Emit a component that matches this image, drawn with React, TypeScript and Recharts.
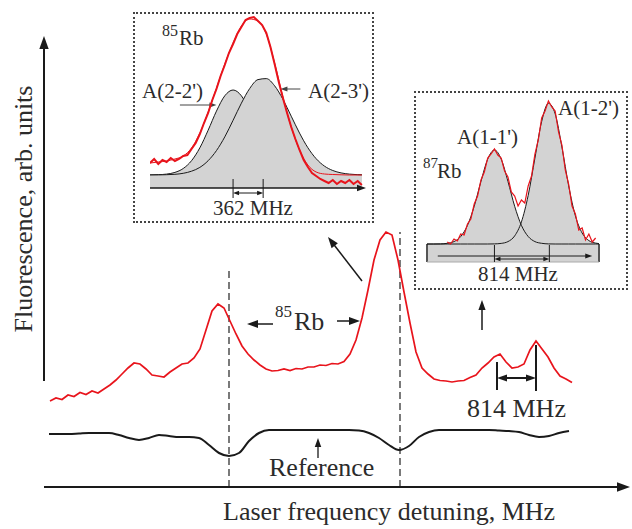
import { Area, ComposedChart, Line, LineChart, ReferenceLine, XAxis, YAxis } from 'recharts'

const INK = '#1a1a1a'
const RED = '#e8141c'
const GRAY = '#d3d3d3'
const TEXT = '#2b2b2b'
const FONT = '"Liberation Serif", "Times New Roman", Times, serif'

// main trace: fluorescence sampled every 120 MHz starting at 120 MHz
const FLUO_STEP = 120
const fluorescence = [
  17.2, 17.8, 17.5, 18.4, 18.1, 18.9, 18.5, 19.2, 18.8, 19.6,
  20.4, 21.4, 22.6, 23.8, 24.8, 24.6, 23.6, 22.4, 22.2, 22.0,
  23.0, 23.8, 24.6, 24.8, 25.8, 27.6, 31.4, 35.2, 36.6, 35.8,
  33.2, 30.6, 28.2, 26.6, 25.4, 24.4, 23.6, 23.2, 23.3, 23.6,
  23.3, 23.7, 23.6, 24.0, 24.0, 24.4, 24.3, 24.7, 24.6, 25.1,
  26.6, 29.4, 33.8, 39.4, 45.4, 49.4, 51.0, 50.4, 45.4, 39.0,
  32.8, 27.0, 23.8, 22.6, 21.6, 21.3, 21.2, 21.0, 21.2, 21.3,
  21.9, 22.4, 23.8, 24.8, 26.0, 26.6, 25.0, 23.8, 24.0, 24.6,
  27.4, 29.2, 27.6, 26.0, 23.8, 22.2, 21.6, 20.9,
]

// reference cell signal, every 200 MHz starting at 100 MHz
const REF_START = 100
const REF_STEP = 200
const referenceSignal = [
  10.6, 10.6, 10.6, 10.7, 10.8, 10.8, 10.8, 10.4, 9.8, 9.4,
  9.8, 10.4, 10.2, 10.0, 10.0, 9.8, 8.4, 6.8, 6.2, 6.8,
  9.2, 10.8, 11.4, 11.4, 11.4, 11.4, 11.4, 11.4, 11.4, 11.4,
  11.4, 11.3, 10.8, 9.8, 8.4, 7.4, 8.2, 10.0, 11.0, 11.4,
  11.4, 11.4, 11.4, 11.4, 11.4, 11.3, 11.2, 11.0, 10.4, 10.0,
  10.2, 10.8, 11.2,
]

// dashed markers at the two 85Rb reference dips (MHz) and their heights
const dipLines = [3700, 7120]
const dipTops = [43.8, 51]

// 85Rb inset
const rb85Detuning = [-1000, -900, -800, -700, -600, -500, -400, -300, -200, -100, 0, 100, 200, 300, 400, 500, 600, 700, 800, 900, 1000, 1100, 1200, 1300, 1400, 1500, 1550]
const rb85A22 = [0.1, 0.3, 0.9, 2.6, 6.5, 14.3, 27.2, 44.8, 63.9, 79.2, 85, 79.2, 63.9, 44.8, 27.2, 14.3, 6.5, 2.6, 0.9, 0.3, 0.1, 0, 0, 0, 0, 0, 0]
const rb85A23 = [0, 0.1, 0.3, 0.7, 1.7, 3.8, 7.6, 14.3, 24.4, 38.1, 54.7, 71.8, 86.5, 95.4, 96.4, 89.2, 75.7, 58.8, 41.9, 27.3, 16.3, 8.9, 4.5, 2.1, 0.9, 0.3, 0.2]
const rb85Fit = [12, 13, 14, 16, 19, 27, 42, 63, 87, 111, 132, 149, 156, 154, 141, 112, 78, 48, 25, 10, 3, 1, 0.5, 0.2, 0, 0, 0]
const RB85_SIG_START = -1000
const RB85_SIG_STEP = 50
const rb85Signal = [
  12, 16, 11, 15, 13, 17, 14, 16, 19, 20,
  26, 32, 41, 52, 62, 75, 86, 99, 110, 122,
  131, 141, 148, 155, 157, 158, 154, 150, 142, 128,
  111, 93, 77, 62, 48, 36, 25, 15, 8, 2,
  -1, -4, -6, -8, -5, -9, -6, -8, -5, -9,
  -6, -10,
]
const RB85_SPLIT = 362

// 87Rb inset
const rb87Detuning = [-1000, -900, -800, -700, -600, -500, -400, -300, -200, -100, 0, 100, 200, 300, 400, 500, 600, 700, 800, 900, 1000, 1100, 1200, 1300, 1400, 1500, 1550]
const rb87A11 = [0, 0, 0.1, 0.7, 2.4, 7.5, 18.6, 37.7, 62.6, 84.9, 94, 84.9, 62.6, 37.7, 18.6, 7.5, 2.4, 0.7, 0.1, 0, 0, 0, 0, 0, 0, 0, 0]
const rb87A12 = [0, 0, 0, 0, 0, 0, 0, 0, 0, 0, 0.1, 0.6, 2.4, 8.1, 22.1, 48.6, 85.9, 122.5, 140.7, 130.2, 97, 58.2, 28.1, 11, 3.4, 0.9, 0.4]
const RB87_SIG_START = -700
const RB87_SIG_STEP = 50
const rb87Signal = [
  2, 0, 5, 3, 10, 9, 20, 25, 40, 48,
  64, 72, 86, 90, 95, 89, 86, 73, 67, 52,
  48, 38, 44, 41, 58, 68, 90, 104, 126, 133,
  143, 137, 133, 112, 99, 74, 60, 38, 30, 14,
  16, 4, 10, 2, 6,
]
const RB87_SPLIT = 814

const fluoRows = fluorescence.map((v, i) => ({ f: FLUO_STEP * (i + 1), v }))
const refRows = referenceSignal.map((v, i) => ({ f: REF_START + REF_STEP * i, v }))
const rb85Rows = rb85Detuning.map((x, i) => ({ x, a22: rb85A22[i], a23: rb85A23[i], fit: rb85Fit[i] }))
const rb85SigRows = rb85Signal.map((v, i) => ({ x: RB85_SIG_START + RB85_SIG_STEP * i, v }))
const rb87Rows = rb87Detuning.map((x, i) => ({ x, a11: rb87A11[i], a12: rb87A12[i] }))
const rb87SigRows = rb87Signal.map((v, i) => ({ x: RB87_SIG_START + RB87_SIG_STEP * i, v }))

// line with a filled arrow head, used as a ReferenceLine shape
const arrow = ({ color = INK, width = 1.5, head = 10, both = false } = {}) => (p: any) => {
  const { x1, y1, x2, y2 } = p
  const a = Math.atan2(y2 - y1, x2 - x1)
  const hw = head * 0.36
  const tri = (x: number, y: number, ang: number) => {
    const bx = x - head * Math.cos(ang)
    const by = y - head * Math.sin(ang)
    return `${x},${y} ${bx + hw * Math.sin(ang)},${by - hw * Math.cos(ang)} ${bx - hw * Math.sin(ang)},${by + hw * Math.cos(ang)}`
  }
  const sx = both ? x1 + head * 0.8 * Math.cos(a) : x1
  const sy = both ? y1 + head * 0.8 * Math.sin(a) : y1
  return (
    <g>
      <line x1={sx} y1={sy} x2={x2 - head * 0.8 * Math.cos(a)} y2={y2 - head * 0.8 * Math.sin(a)} stroke={color} strokeWidth={width} />
      <polygon points={tri(x2, y2, a)} fill={color} />
      {both && <polygon points={tri(x1, y1, a + Math.PI)} fill={color} />}
    </g>
  )
}

const seg = (x1: number, y1: number, x2: number, y2: number) => [{ x: x1, y: y1 }, { x: x2, y: y2 }]

const boxStyle = (left: number, top: number, width: number, height: number): React.CSSProperties => ({
  position: 'absolute', left, top, width, height, boxSizing: 'border-box', border: '2px dotted #444',
})

function Inset85() {
  return (
    <ComposedChart width={241} height={211} data={rb85Rows} margin={{ top: 0, right: 8, bottom: 35, left: 17 }}>
      <XAxis type="number" dataKey="x" domain={[-1000, 1600]} hide allowDataOverflow />
      <YAxis type="number" domain={[-13, 163]} hide allowDataOverflow />
      <Area dataKey="a22" type="monotone" baseValue={-13} fill={GRAY} fillOpacity={1} stroke={INK} strokeWidth={1} isAnimationActive={false} dot={false} activeDot={false} />
      <Area dataKey="a23" type="monotone" baseValue={-13} fill={GRAY} fillOpacity={1} stroke={INK} strokeWidth={1} isAnimationActive={false} dot={false} activeDot={false} />
      <ReferenceLine segment={seg(-1000, -13, 1600, -13)} ifOverflow="visible" shape={arrow({ width: 1.3, head: 9 })} />
      <ReferenceLine segment={seg(0, -4, 0, -23)} ifOverflow="visible" stroke={INK} strokeWidth={1} />
      <ReferenceLine segment={seg(RB85_SPLIT, -4, RB85_SPLIT, -23)} ifOverflow="visible" stroke={INK} strokeWidth={1} />
      <ReferenceLine segment={seg(0, -18, RB85_SPLIT, -18)} ifOverflow="visible" shape={arrow({ width: 1, head: 6, both: true })} />
      <ReferenceLine segment={seg(-640, 70, -200, 70)} ifOverflow="visible" shape={arrow({ width: 1, head: 7, color: '#444' })} />
      <ReferenceLine segment={seg(810, 86, 570, 86)} ifOverflow="visible" shape={arrow({ width: 1, head: 7, color: '#444' })} />
      <Line dataKey="fit" type="monotone" stroke={RED} strokeWidth={1} dot={false} activeDot={false} isAnimationActive={false} />
      <Line data={rb85SigRows} dataKey="v" type="linear" stroke={RED} strokeWidth={2} dot={false} activeDot={false} isAnimationActive={false} />
    </ComposedChart>
  )
}

function Inset87() {
  return (
    <ComposedChart width={214} height={199} data={rb87Rows} margin={{ top: 0, right: 29, bottom: 28, left: 13 }}>
      <XAxis type="number" dataKey="x" domain={[-1000, 1550]} hide allowDataOverflow />
      <YAxis type="number" domain={[-18, 153]} hide allowDataOverflow />
      <Area dataKey="a11" type="monotone" baseValue={-18} fill={GRAY} fillOpacity={1} stroke="none" isAnimationActive={false} dot={false} activeDot={false} />
      <Area dataKey="a12" type="monotone" baseValue={-18} fill={GRAY} fillOpacity={1} stroke="none" isAnimationActive={false} dot={false} activeDot={false} />
      <ReferenceLine segment={seg(-1000, -18, -1000, 0)} ifOverflow="visible" stroke="#555" strokeWidth={2} />
      <ReferenceLine segment={seg(1550, -18, 1550, 0)} ifOverflow="visible" stroke="#555" strokeWidth={2} />
      <ReferenceLine segment={seg(-1000, -18, 1550, -18)} ifOverflow="visible" stroke="#aaa" strokeWidth={1} />
      <ReferenceLine segment={seg(-840, -12, 1450, -12)} ifOverflow="visible" shape={arrow({ width: 1, head: 7 })} />
      <ReferenceLine segment={seg(0, -1, 0, -18)} ifOverflow="visible" stroke={INK} strokeWidth={1} />
      <ReferenceLine segment={seg(RB87_SPLIT, -1, RB87_SPLIT, -18)} ifOverflow="visible" stroke={INK} strokeWidth={1} />
      <ReferenceLine segment={seg(0, -15, RB87_SPLIT, -15)} ifOverflow="visible" shape={arrow({ width: 1, head: 6, both: true })} />
      <Line dataKey="a11" type="monotone" stroke={INK} strokeWidth={1} dot={false} activeDot={false} isAnimationActive={false} />
      <Line dataKey="a12" type="monotone" stroke={INK} strokeWidth={1} dot={false} activeDot={false} isAnimationActive={false} />
      <Line data={rb87SigRows} dataKey="v" type="linear" stroke={RED} strokeWidth={1.2} dot={false} activeDot={false} isAnimationActive={false} />
    </ComposedChart>
  )
}

export default function App() {
  return (
    <div style={{ position: 'absolute', left: 0, top: 0, width: 632, height: 529, background: '#fff', fontFamily: FONT }}>
      <div style={{ position: 'absolute', left: 0, top: 0 }}>
        <LineChart width={632} height={529} margin={{ top: 27, right: 0, bottom: 42, left: 44 }}>
          <XAxis type="number" dataKey="f" domain={[0, 11760]} hide allowDataOverflow />
          <YAxis type="number" domain={[0, 92]} hide allowDataOverflow />
          {dipLines.map((x, i) => (
            <ReferenceLine key={x} segment={seg(x, 0, x, dipTops[i])} ifOverflow="visible" stroke="#333" strokeWidth={1.3} strokeDasharray="7 4" />
          ))}
          <ReferenceLine segment={seg(0, 0, 11720, 0)} ifOverflow="visible" shape={arrow({ width: 2, head: 13 })} />
          <ReferenceLine segment={seg(0, 21.2, 0, 90.2)} ifOverflow="visible" shape={arrow({ width: 2, head: 13 })} />
          <ReferenceLine segment={seg(6360, 41.2, 5680, 50)} ifOverflow="visible" shape={arrow({ width: 1.5, head: 11 })} />
          <ReferenceLine segment={seg(8760, 31.4, 8760, 37.4)} ifOverflow="visible" shape={arrow({ width: 1.5, head: 10 })} />
          <ReferenceLine segment={seg(4580, 32.6, 4060, 32.6)} ifOverflow="visible" shape={arrow({ width: 1.5, head: 11 })} />
          <ReferenceLine segment={seg(5860, 33.2, 6320, 33.2)} ifOverflow="visible" shape={arrow({ width: 1.5, head: 11 })} />
          <ReferenceLine segment={seg(5480, 5.8, 5480, 9.8)} ifOverflow="visible" shape={arrow({ width: 1.3, head: 9 })} />
          <ReferenceLine segment={seg(9060, 25, 9060, 19.4)} ifOverflow="visible" stroke={INK} strokeWidth={2} />
          <ReferenceLine segment={seg(9840, 28.4, 9840, 19.2)} ifOverflow="visible" stroke={INK} strokeWidth={2} />
          <ReferenceLine segment={seg(9060, 21.8, 9840, 21.8)} ifOverflow="visible" shape={arrow({ width: 2, head: 10, both: true })} />
          <Line data={refRows} dataKey="v" type="monotone" stroke={INK} strokeWidth={2} dot={false} activeDot={false} isAnimationActive={false} />
          <Line data={fluoRows} dataKey="v" type="linear" stroke={RED} strokeWidth={1.7} dot={false} activeDot={false} isAnimationActive={false} />
        </LineChart>
      </div>

      <div style={{ ...boxStyle(133, 12, 241, 211), background: '#fff' }} />
      <div style={{ position: 'absolute', left: 133, top: 12 }}>
        <Inset85 />
      </div>

      <div style={{ ...boxStyle(414, 91, 214, 199), background: '#fff' }} />
      <div style={{ position: 'absolute', left: 414, top: 91 }}>
        <Inset87 />
      </div>

      <svg width={632} height={529} style={{ position: 'absolute', left: 0, top: 0, pointerEvents: 'none' }} fontFamily={FONT} fill={TEXT}>
        <text transform="translate(32,209) rotate(-90)" textAnchor="middle" fontSize={26}>Fluorescence, arb. units</text>
        <text x={223} y={520} fontSize={26}>Laser frequency detuning, MHz</text>
        <text x={275} y={317} fontSize={17}>85</text>
        <text x={294} y={330} fontSize={26}>Rb</text>
        <text x={467} y={417} fontSize={26}>814 MHz</text>
        <text x={269} y={476} fontSize={26}>Reference</text>

        <text x={162} y={36} fontSize={16}>85</text>
        <text x={179} y={45} fontSize={21}>Rb</text>
        <text x={142} y={98} fontSize={21}>A(2-2')</text>
        <text x={308} y={98} fontSize={21}>A(2-3')</text>
        <text x={213} y={215} fontSize={21}>362 MHz</text>

        <text x={423} y={168} fontSize={15}>87</text>
        <text x={437} y={178} fontSize={21}>Rb</text>
        <text x={457} y={144} fontSize={21}>A(1-1')</text>
        <text x={558} y={115} fontSize={21}>A(1-2')</text>
        <text x={478} y={281} fontSize={21}>814 MHz</text>
      </svg>
    </div>
  )
}
